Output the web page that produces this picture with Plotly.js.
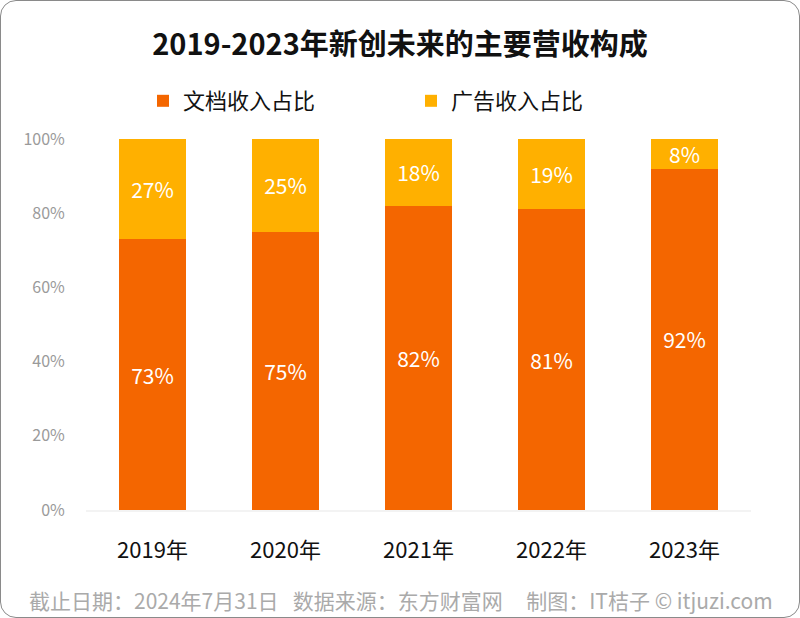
<!DOCTYPE html>
<html>
<head>
<meta charset="utf-8">
<script src="https://cdn.plot.ly/plotly-3.0.1.min.js"></script>
<style>
  html, body { margin: 0; padding: 0; background: #fff; }
  #wrap { position: relative; width: 800px; height: 618px; }
  #chart { position: absolute; left: 0; top: 0; width: 800px; height: 618px; }
  #frame { position: absolute; left: 0; top: 0; width: 800px; height: 618px; box-sizing: border-box;
           border: 1.5px solid #8a8a8a; border-radius: 16px; pointer-events: none; }
</style>
</head>
<body>
<div id="wrap">
  <div id="chart"></div>
  <div id="frame"></div>
</div>
<script>
const years = ['2019年', '2020年', '2021年', '2022年', '2023年'];
const docShare = [73, 75, 82, 81, 92];
const adShare = [27, 25, 18, 19, 8];
const seriesNames = ['文档收入占比', '广告收入占比'];
const yTicks = [0, 20, 40, 60, 80, 100];
const yTickLabels = ['0%', '20%', '40%', '60%', '80%', '100%'];

const FONT = '"Noto Sans CJK SC", "Noto Sans", sans-serif';

const traces = [
  {
    type: 'bar', name: seriesNames[0], x: years, y: docShare,
    marker: { color: '#F46600' },
    text: docShare.map(v => v + '%'), textposition: 'inside', insidetextanchor: 'middle',
    constraintext: 'none',
    textfont: { color: '#ffffff', size: 21, family: FONT },
    hoverinfo: 'skip'
  },
  {
    type: 'bar', name: seriesNames[1], x: years, y: adShare,
    marker: { color: '#FFB000' },
    text: adShare.map(v => v + '%'), textposition: 'inside', insidetextanchor: 'middle',
    constraintext: 'none',
    textfont: { color: '#ffffff', size: 21, family: FONT },
    hoverinfo: 'skip'
  }
];

const layout = {
  width: 800, height: 618,
  paper_bgcolor: 'rgba(0,0,0,0)', plot_bgcolor: 'rgba(0,0,0,0)',
  margin: { l: 86, r: 49, t: 139, b: 108 },
  barmode: 'stack', bargap: 0.5,
  font: { family: FONT },
  title: {
    text: '<b>2019-2023年新创未来的主要营收构成</b>',
    font: { size: 29, color: '#111', family: FONT },
    x: 0.5, xanchor: 'center', xref: 'container',
    y: 1 - 45 / 618, yanchor: 'middle', yref: 'container'
  },
  showlegend: true,
  legend: {
    orientation: 'h', x: 143 / 800, xanchor: 'left', xref: 'container',
    y: 1 - 101 / 618, yanchor: 'middle', yref: 'container',
    font: { size: 22, color: '#111', family: FONT },
    entrywidth: 223, entrywidthmode: 'pixels',
    itemwidth: 30, traceorder: 'normal'
  },
  xaxis: {
    type: 'category', range: [-0.5, 4.5],
    showgrid: false, zeroline: false,
    showline: true, linecolor: '#f3f3f3', linewidth: 2,
    ticks: 'outside', ticklen: 20, tickcolor: 'rgba(0,0,0,0)',
    tickfont: { size: 22, color: '#111', family: FONT }
  },
  yaxis: {
    range: [0, 100], tickvals: yTicks, ticktext: yTickLabels,
    showgrid: false, zeroline: false, showline: false,
    ticks: 'outside', ticklen: 17, tickcolor: 'rgba(0,0,0,0)',
    tickfont: { size: 16, color: '#9a9a9a', family: FONT }
  },
  annotations: [
    {
      text: '截止日期：2024年7月31日   数据来源：东方财富网     制图：IT桔子 © itjuzi.com',
      xref: 'paper', yref: 'paper', x: -86 / 665, xshift: 27, xanchor: 'left',
      y: 0, yshift: -90, yanchor: 'middle', showarrow: false,
      font: { size: 21, color: '#aaaaaa', family: FONT }
    }
  ]
};

Plotly.newPlot('chart', traces, layout, { staticPlot: true, displayModeBar: false });
</script>
</body>
</html>
